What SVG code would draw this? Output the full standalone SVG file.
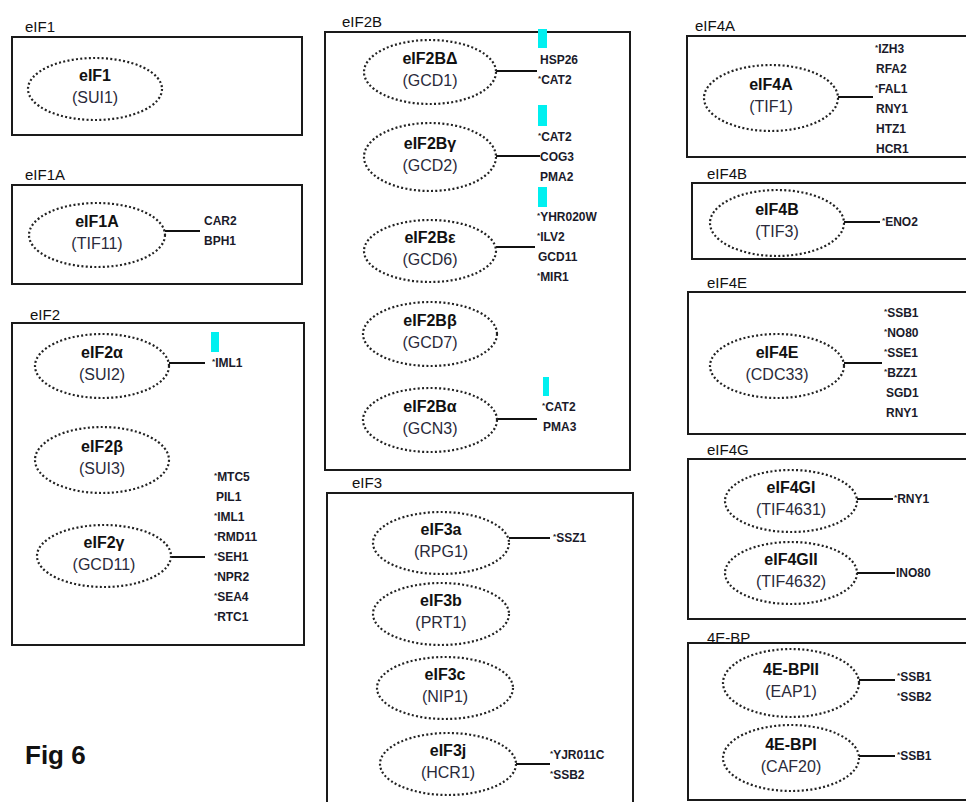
<svg xmlns="http://www.w3.org/2000/svg" width="966" height="802" viewBox="0 0 966 802">
<style>
.box{fill:none;stroke:#1a1a1a;stroke-width:2}
.ell{fill:#fff;stroke:#222;stroke-width:2.2;stroke-dasharray:2 2.3}
.grp{font-family:"Liberation Sans",Arial,sans-serif;font-size:15px;fill:#111}
.t{font-family:"Liberation Sans",Arial,sans-serif;font-size:16px;font-weight:bold;fill:#111;text-anchor:middle}
.s{font-family:"Liberation Sans",Arial,sans-serif;font-size:16px;fill:#2a2a3a;text-anchor:middle}
.l{font-family:"Liberation Sans",Arial,sans-serif;font-size:12px;font-weight:bold;fill:#1a1a2a}
.a{font-size:8px}
.con line{stroke:#111;stroke-width:2}
.cy{fill:#00f0f0}
.fig{font-family:"Liberation Sans",Arial,sans-serif;font-size:26px;font-weight:bold;fill:#111}
</style>
<rect width="966" height="802" fill="#fff"/>

<!-- group boxes -->
<g id="box-eIF1"><rect class="box" x="12" y="37" width="290" height="98"/><text class="grp" x="25" y="32">eIF1</text></g>
<g id="box-eIF1A"><rect class="box" x="12" y="185" width="290" height="99"/><text class="grp" x="25" y="180">eIF1A</text></g>
<g id="box-eIF2"><rect class="box" x="12" y="323" width="292" height="322"/><text class="grp" x="30" y="320">eIF2</text></g>
<g id="box-eIF2B"><rect class="box" x="325" y="32" width="305" height="438"/><text class="grp" x="342" y="27">eIF2B</text></g>
<g id="box-eIF3"><rect class="box" x="327" y="493" width="306" height="320"/><text class="grp" x="352" y="488">eIF3</text></g>
<g id="box-eIF4A"><rect class="box" x="687" y="36" width="300" height="121"/><text class="grp" x="695" y="31">eIF4A</text></g>
<g id="box-eIF4B"><rect class="box" x="692" y="183" width="300" height="76"/><text class="grp" x="707" y="179">eIF4B</text></g>
<g id="box-eIF4E"><rect class="box" x="688" y="292" width="300" height="142"/><text class="grp" x="707" y="288">eIF4E</text></g>
<g id="box-eIF4G"><rect class="box" x="688" y="459" width="300" height="160"/><text class="grp" x="707" y="455">eIF4G</text></g>
<g id="box-4EBP"><rect class="box" x="688" y="643" width="300" height="157"/><text class="grp" x="707" y="643">4E-BP</text></g>

<!-- cyan marks -->
<g id="marks">
<rect class="cy" x="211" y="332" width="8" height="20"/>
<rect class="cy" x="538" y="29" width="9" height="19"/>
<rect class="cy" x="538" y="105" width="9" height="21"/>
<rect class="cy" x="538" y="187" width="9" height="20"/>
<rect class="cy" x="543" y="377" width="6" height="19"/>
</g>

<!-- connectors -->
<g id="connectors" class="con">
<line x1="165" y1="231" x2="200" y2="231"/>
<line x1="169" y1="363" x2="205" y2="363"/>
<line x1="171" y1="557" x2="205" y2="557"/>
<line x1="496" y1="71" x2="537" y2="71"/>
<line x1="496" y1="156" x2="540" y2="156"/>
<line x1="496" y1="247" x2="535" y2="247"/>
<line x1="497" y1="419" x2="537" y2="419"/>
<line x1="509" y1="538" x2="550" y2="538"/>
<line x1="516" y1="764" x2="550" y2="764"/>
<line x1="838" y1="97" x2="873" y2="97"/>
<line x1="844" y1="222" x2="880" y2="222"/>
<line x1="844" y1="363" x2="882" y2="363"/>
<line x1="857" y1="499" x2="893" y2="499"/>
<line x1="857" y1="573" x2="895" y2="573"/>
<line x1="859" y1="680" x2="895" y2="680"/>
<line x1="859" y1="756" x2="895" y2="756"/>
</g>

<!-- nodes -->
<g id="n-eIF1"><ellipse class="ell" cx="95" cy="89" rx="67" ry="31"/><text class="t" x="95" y="81">eIF1</text><text class="s" x="95" y="103">(SUI1)</text></g>
<g id="n-eIF1A"><ellipse class="ell" cx="97" cy="235" rx="68" ry="32"/><text class="t" x="97" y="227">eIF1A</text><text class="s" x="97" y="249">(TIF11)</text></g>
<g id="n-eIF2a"><ellipse class="ell" cx="102" cy="366" rx="67" ry="32"/><text class="t" x="102" y="358">eIF2α</text><text class="s" x="102" y="380">(SUI2)</text></g>
<g id="n-eIF2b"><ellipse class="ell" cx="102" cy="460" rx="67" ry="33"/><text class="t" x="102" y="452">eIF2β</text><text class="s" x="102" y="474">(SUI3)</text></g>
<g id="n-eIF2g"><ellipse class="ell" cx="104" cy="556" rx="67" ry="31"/><text class="t" x="104" y="548">eIF2γ</text><text class="s" x="104" y="570">(GCD11)</text></g>
<g id="n-eIF2Bd"><ellipse class="ell" cx="430" cy="72" rx="66" ry="32"/><text class="t" x="430" y="64">eIF2BΔ</text><text class="s" x="430" y="86">(GCD1)</text></g>
<g id="n-eIF2Bg"><ellipse class="ell" cx="430" cy="157" rx="66" ry="34"/><text class="t" x="430" y="149">eIF2Bγ</text><text class="s" x="430" y="171">(GCD2)</text></g>
<g id="n-eIF2Be"><ellipse class="ell" cx="430" cy="251" rx="66" ry="31"/><text class="t" x="430" y="243">eIF2Bε</text><text class="s" x="430" y="265">(GCD6)</text></g>
<g id="n-eIF2Bb"><ellipse class="ell" cx="430" cy="334" rx="67" ry="32"/><text class="t" x="430" y="326">eIF2Bβ</text><text class="s" x="430" y="348">(GCD7)</text></g>
<g id="n-eIF2Ba"><ellipse class="ell" cx="430" cy="420" rx="67" ry="32"/><text class="t" x="430" y="412">eIF2Bα</text><text class="s" x="430" y="434">(GCN3)</text></g>
<g id="n-eIF3a"><ellipse class="ell" cx="441" cy="543" rx="68" ry="31"/><text class="t" x="441" y="535">eIF3a</text><text class="s" x="441" y="557">(RPG1)</text></g>
<g id="n-eIF3b"><ellipse class="ell" cx="441" cy="614" rx="68" ry="31"/><text class="t" x="441" y="606">eIF3b</text><text class="s" x="441" y="628">(PRT1)</text></g>
<g id="n-eIF3c"><ellipse class="ell" cx="445" cy="688" rx="68" ry="31"/><text class="t" x="445" y="680">eIF3c</text><text class="s" x="445" y="702">(NIP1)</text></g>
<g id="n-eIF3j"><ellipse class="ell" cx="448" cy="764" rx="68" ry="31"/><text class="t" x="448" y="756">eIF3j</text><text class="s" x="448" y="778">(HCR1)</text></g>
<g id="n-eIF4A"><ellipse class="ell" cx="771" cy="98" rx="67" ry="33"/><text class="t" x="771" y="90">eIF4A</text><text class="s" x="771" y="112">(TIF1)</text></g>
<g id="n-eIF4B"><ellipse class="ell" cx="777" cy="223" rx="67" ry="33"/><text class="t" x="777" y="215">eIF4B</text><text class="s" x="777" y="237">(TIF3)</text></g>
<g id="n-eIF4E"><ellipse class="ell" cx="777" cy="366" rx="67" ry="32"/><text class="t" x="777" y="358">eIF4E</text><text class="s" x="777" y="380">(CDC33)</text></g>
<g id="n-eIF4GI"><ellipse class="ell" cx="791" cy="501" rx="66" ry="31"/><text class="t" x="791" y="493">eIF4GI</text><text class="s" x="791" y="515">(TIF4631)</text></g>
<g id="n-eIF4GII"><ellipse class="ell" cx="791" cy="573" rx="66" ry="31"/><text class="t" x="791" y="565">eIF4GII</text><text class="s" x="791" y="587">(TIF4632)</text></g>
<g id="n-4EBPII"><ellipse class="ell" cx="791" cy="683" rx="68" ry="34"/><text class="t" x="791" y="675">4E-BPII</text><text class="s" x="791" y="697">(EAP1)</text></g>
<g id="n-4EBPI"><ellipse class="ell" cx="791" cy="758" rx="68" ry="33"/><text class="t" x="791" y="750">4E-BPI</text><text class="s" x="791" y="772">(CAF20)</text></g>

<!-- interactor lists -->
<g id="lists" class="l">
<text x="204" y="225">CAR2</text><text x="204" y="245">BPH1</text>
<text x="212" y="367"><tspan class="a" dy="-3">*</tspan><tspan dy="3">IML1</tspan></text>
<text x="214" y="481"><tspan class="a" dy="-3">*</tspan><tspan dy="3">MTC5</tspan></text>
<text x="216" y="501">PIL1</text>
<text x="214" y="521"><tspan class="a" dy="-3">*</tspan><tspan dy="3">IML1</tspan></text>
<text x="214" y="541"><tspan class="a" dy="-3">*</tspan><tspan dy="3">RMD11</tspan></text>
<text x="214" y="561"><tspan class="a" dy="-3">*</tspan><tspan dy="3">SEH1</tspan></text>
<text x="214" y="581"><tspan class="a" dy="-3">*</tspan><tspan dy="3">NPR2</tspan></text>
<text x="214" y="601"><tspan class="a" dy="-3">*</tspan><tspan dy="3">SEA4</tspan></text>
<text x="214" y="621"><tspan class="a" dy="-3">*</tspan><tspan dy="3">RTC1</tspan></text>
<text x="540" y="64">HSP26</text>
<text x="538" y="84"><tspan class="a" dy="-3">*</tspan><tspan dy="3">CAT2</tspan></text>
<text x="538" y="141"><tspan class="a" dy="-3">*</tspan><tspan dy="3">CAT2</tspan></text>
<text x="540" y="161">COG3</text>
<text x="540" y="181">PMA2</text>
<text x="537" y="221"><tspan class="a" dy="-3">*</tspan><tspan dy="3">YHR020W</tspan></text>
<text x="537" y="241"><tspan class="a" dy="-3">*</tspan><tspan dy="3">ILV2</tspan></text>
<text x="538" y="261">GCD11</text>
<text x="537" y="281"><tspan class="a" dy="-3">*</tspan><tspan dy="3">MIR1</tspan></text>
<text x="542" y="411"><tspan class="a" dy="-3">*</tspan><tspan dy="3">CAT2</tspan></text>
<text x="543" y="431">PMA3</text>
<text x="553" y="542"><tspan class="a" dy="-3">*</tspan><tspan dy="3">SSZ1</tspan></text>
<text x="550" y="759"><tspan class="a" dy="-3">*</tspan><tspan dy="3">YJR011C</tspan></text>
<text x="550" y="779"><tspan class="a" dy="-3">*</tspan><tspan dy="3">SSB2</tspan></text>
<text x="875" y="53"><tspan class="a" dy="-3">*</tspan><tspan dy="3">IZH3</tspan></text>
<text x="876" y="73">RFA2</text>
<text x="875" y="93"><tspan class="a" dy="-3">*</tspan><tspan dy="3">FAL1</tspan></text>
<text x="876" y="113">RNY1</text>
<text x="876" y="133">HTZ1</text>
<text x="876" y="153">HCR1</text>
<text x="882" y="226"><tspan class="a" dy="-3">*</tspan><tspan dy="3">ENO2</tspan></text>
<text x="884" y="317"><tspan class="a" dy="-3">*</tspan><tspan dy="3">SSB1</tspan></text>
<text x="884" y="337"><tspan class="a" dy="-3">*</tspan><tspan dy="3">NO80</tspan></text>
<text x="884" y="357"><tspan class="a" dy="-3">*</tspan><tspan dy="3">SSE1</tspan></text>
<text x="884" y="377"><tspan class="a" dy="-3">*</tspan><tspan dy="3">BZZ1</tspan></text>
<text x="886" y="397">SGD1</text>
<text x="886" y="417">RNY1</text>
<text x="894" y="503"><tspan class="a" dy="-3">*</tspan><tspan dy="3">RNY1</tspan></text>
<text x="896" y="577">INO80</text>
<text x="897" y="681"><tspan class="a" dy="-3">*</tspan><tspan dy="3">SSB1</tspan></text>
<text x="897" y="701"><tspan class="a" dy="-3">*</tspan><tspan dy="3">SSB2</tspan></text>
<text x="897" y="760"><tspan class="a" dy="-3">*</tspan><tspan dy="3">SSB1</tspan></text>
</g>

<text class="fig" x="25" y="764">Fig 6</text>
</svg>
